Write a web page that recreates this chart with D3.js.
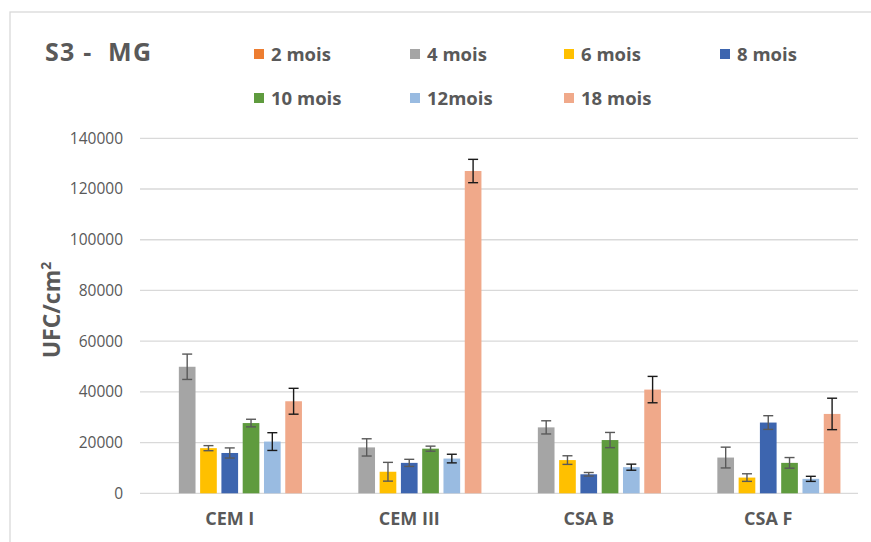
<!DOCTYPE html>
<html>
<head>
<meta charset="utf-8">
<script src="https://cdn.jsdelivr.net/npm/d3@7"></script>
<style>
html,body{margin:0;padding:0;background:#fff;}
svg{display:block;}
text{font-family:"Open Sans","Liberation Sans",sans-serif;fill:#595959;}
</style>
</head>
<body>
<svg id="chart" width="871" height="542"></svg>
<script>
const categories = ["CEM I", "CEM III", "CSA B", "CSA F"];
const seriesNames = ["2 mois", "4 mois", "6 mois", "8 mois", "10 mois", "12mois", "18 mois"];
const seriesColors = ["#ED7D31", "#A5A5A5", "#FFC000", "#3D65AF", "#5F9B3E", "#99BBE1", "#F0A98A"];
const values2 = [null, null, null, null];
const values4 = [49900, 18100, 26000, 14100];
const values6 = [17800, 8500, 13100, 6200];
const values8 = [15900, 12000, 7500, 27900];
const values10 = [27700, 17600, 21000, 12000];
const values12 = [20400, 13700, 10300, 5700];
const values18 = [36300, 127100, 40900, 31300];
const errors2 = [null, null, null, null];
const errors4 = [5000, 3400, 2600, 4100];
const errors6 = [1000, 3700, 1700, 1500];
const errors8 = [2000, 1400, 700, 2700];
const errors10 = [1500, 1000, 3000, 2100];
const errors12 = [3500, 1700, 1200, 1000];
const errors18 = [5100, 4600, 5200, 6200];
const yTicks = [0, 20000, 40000, 60000, 80000, 100000, 120000, 140000];
const title = "S3 -\u00a0 MG";

const allValues = [values2, values4, values6, values8, values10, values12, values18];
const allErrors = [errors2, errors4, errors6, errors8, errors10, errors12, errors18];
const errColors = ["#595959", "#595959", "#595959", "#595959", "#595959", "#1a1a1a", "#1a1a1a"];

const svg = d3.select("#chart");
const plot = {left: 140, right: 858, top: 138.3, bottom: 493.3};

// chart border
svg.append("rect").attr("x", 10).attr("y", 12).attr("width", 880).attr("height", 560)
  .attr("fill", "none").attr("stroke", "#D9D9D9").attr("stroke-width", 1.3);

const y = d3.scaleLinear().domain([0, 140000]).range([plot.bottom, plot.top]);
const x0 = d3.scaleBand().domain(categories).range([plot.left, plot.right])
  .paddingInner(0.17).paddingOuter(0.085);
const x1 = d3.scaleBand().domain(seriesNames).range([0, x0.bandwidth()]);

// gridlines
svg.append("g").selectAll("line").data(yTicks).join("line")
  .attr("x1", plot.left).attr("x2", plot.right)
  .attr("y1", d => y(d)).attr("y2", d => y(d))
  .attr("stroke", "#D9D9D9").attr("stroke-width", 1.3);

// y axis labels
const yAxis = d3.axisLeft(y).tickValues(yTicks).tickSize(0).tickPadding(0).tickFormat(d3.format("d"));
const yg = svg.append("g").attr("transform", `translate(${plot.left - 17},0)`).call(yAxis);
yg.select(".domain").remove();
yg.selectAll("text").style("font-size", "15.5px").attr("fill", "#595959")
  .style("font-family", '"Open Sans", sans-serif');

// x axis labels
const xAxis = d3.axisBottom(x0).tickSize(0).tickPadding(0);
const xg = svg.append("g").attr("transform", `translate(0,512)`).call(xAxis);
xg.select(".domain").remove();
xg.selectAll("text").style("font-size", "18px").style("font-weight", "bold")
  .attr("fill", "#595959").style("font-family", '"Open Sans", sans-serif');

// bars
const rows = [];
seriesNames.forEach((s, si) => {
  categories.forEach((c, ci) => {
    const v = allValues[si][ci];
    if (v != null) rows.push({s, si, c, v, e: allErrors[si][ci]});
  });
});
const inset = 2.3;
svg.append("g").selectAll("rect").data(rows).join("rect")
  .attr("x", d => x0(d.c) + x1(d.s) + inset)
  .attr("width", x1.bandwidth() - 2 * inset)
  .attr("y", d => y(d.v))
  .attr("height", d => y(0) - y(d.v))
  .attr("fill", d => seriesColors[d.si]);

// error bars
const eg = svg.append("g").selectAll("g").data(rows.filter(d => d.e != null)).join("g")
  .attr("stroke", d => errColors[d.si]).attr("stroke-width", 1.4);
const cx = d => x0(d.c) + x1(d.s) + x1.bandwidth() / 2;
eg.append("line").attr("x1", cx).attr("x2", cx)
  .attr("y1", d => y(d.v + d.e)).attr("y2", d => y(d.v - d.e));
eg.append("line").attr("x1", d => cx(d) - 5).attr("x2", d => cx(d) + 5)
  .attr("y1", d => y(d.v + d.e)).attr("y2", d => y(d.v + d.e));
eg.append("line").attr("x1", d => cx(d) - 5).attr("x2", d => cx(d) + 5)
  .attr("y1", d => y(d.v - d.e)).attr("y2", d => y(d.v - d.e));

// title
svg.append("text").attr("x", 45).attr("y", 61).text(title)
  .attr("textLength", 106).attr("lengthAdjust", "spacing")
  .style("font-size", "25px").style("font-weight", "bold").attr("fill", "#595959");

// y axis title
const yt = svg.append("text").attr("transform", "translate(60,310) rotate(-90)")
  .attr("text-anchor", "middle").style("font-size", "23px").style("font-weight", "bold");
yt.append("tspan").text("UFC/cm");
yt.append("tspan").text("2").attr("dy", -9).style("font-size", "14px");

// legend
const legendPos = [[254, 54], [410, 54], [564, 54], [720, 54], [254, 98], [410, 98], [564, 98]];
const lg = svg.append("g").selectAll("g").data(seriesNames).join("g")
  .attr("transform", (d, i) => `translate(${legendPos[i][0]},${legendPos[i][1]})`);
lg.append("rect").attr("x", 0).attr("y", -5).attr("width", 10).attr("height", 10)
  .attr("fill", (d, i) => seriesColors[i]);
lg.append("text").attr("x", 17).attr("y", 6.5).text(d => d)
  .style("font-size", "18.5px").style("font-weight", "bold").attr("fill", "#595959");
</script>
</body>
</html>
